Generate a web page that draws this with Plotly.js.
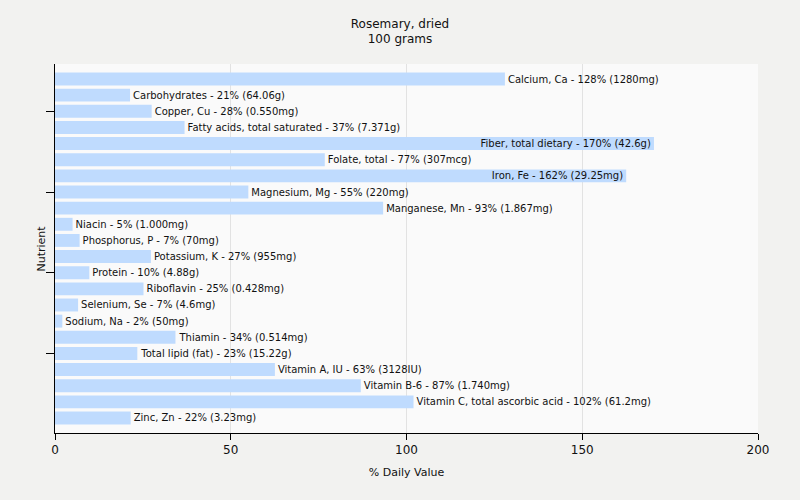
<!DOCTYPE html>
<html>
<head>
<meta charset="utf-8">
<script src="https://cdn.plot.ly/plotly-3.0.1.min.js"></script>
<style>html,body{margin:0;padding:0;background:#f2f2f0;}#chart{width:800px;height:500px;}</style>
</head>
<body>
<div id="chart"></div>
<script>
var nutrients = ["Calcium, Ca","Carbohydrates","Copper, Cu","Fatty acids, total saturated","Fiber, total dietary","Folate, total","Iron, Fe","Magnesium, Mg","Manganese, Mn","Niacin","Phosphorus, P","Potassium, K","Protein","Riboflavin","Selenium, Se","Sodium, Na","Thiamin","Total lipid (fat)","Vitamin A, IU","Vitamin B-6","Vitamin C, total ascorbic acid","Zinc, Zn"];
var percentDV = [128, 21.35, 27.5, 36.86, 170.4, 76.75, 162.5, 55, 93.35, 5, 7, 27.29, 9.76, 25.18, 6.57, 2.08, 34.27, 23.42, 62.56, 87, 102, 21.53];
var percentLabels = ["128%","21%","28%","37%","170%","77%","162%","55%","93%","5%","7%","27%","10%","25%","7%","2%","34%","23%","63%","87%","102%","22%"];
var amounts = ["1280mg","64.06g","0.550mg","7.371g","42.6g","307mcg","29.25mg","220mg","1.867mg","1.000mg","70mg","955mg","4.88g","0.428mg","4.6mg","50mg","0.514mg","15.22g","3128IU","1.740mg","61.2mg","3.23mg"];
var yTickCats = ["Copper, Cu","Magnesium, Mg","Protein","Total lipid (fat)"];

var labels = nutrients.map(function(n,i){ return n + " - " + percentLabels[i] + " (" + amounts[i] + ")"; });
var positions = percentDV.map(function(v){ return v > 140 ? "inside" : "outside"; });

var trace = {
  type: "bar",
  orientation: "h",
  x: percentDV,
  y: nutrients,
  text: labels,
  textposition: positions,
  insidetextanchor: "end",
  constraintext: "none",
  cliponaxis: false,
  textfont: {family: "DejaVu Sans, Verdana, sans-serif", size: 10, color: "#111"},
  marker: {color: "#bfdbfe"},
  hoverinfo: "none"
};

var layout = {
  width: 800, height: 500,
  paper_bgcolor: "#f2f2f0",
  plot_bgcolor: "#fafafa",
  margin: {l: 55, r: 42, t: 64, b: 67},
  bargap: 0.2,
  showlegend: false,
  title: {text: "Rosemary, dried<br>100 grams", x: 0.5, xanchor: "center", y: 0.945, yanchor: "top",
          font: {family: "DejaVu Sans, Verdana, sans-serif", size: 12, color: "#111"}},
  font: {family: "DejaVu Sans, Verdana, sans-serif", size: 12, color: "#111"},
  xaxis: {
    range: [0, 200], tickvals: [0, 50, 100, 150, 200],
    showgrid: true, gridcolor: "#e2e2e2", zeroline: false,
    showline: true, linecolor: "#000", linewidth: 1,
    ticks: "outside", ticklen: 6, tickcolor: "#000",
    tickfont: {size: 12},
    title: {text: "% Daily Value", font: {size: 11}, standoff: 11}
  },
  yaxis: {
    type: "category",
    categoryorder: "array", categoryarray: nutrients,
    range: [21.93, -0.93],
    tickvals: yTickCats, showticklabels: false,
    ticks: "outside", ticklen: 8, tickcolor: "#000",
    showgrid: false, zeroline: false,
    showline: true, linecolor: "#000", linewidth: 1
  },
  annotations: [{
    text: "Nutrient", textangle: -90, showarrow: false,
    xref: "paper", yref: "paper", x: -0.0185, y: 0.5,
    xanchor: "center", yanchor: "middle",
    font: {size: 11, color: "#111"}
  }]
};

Plotly.newPlot("chart", [trace], layout, {displayModeBar: false, staticPlot: true});
</script>
</body>
</html>
